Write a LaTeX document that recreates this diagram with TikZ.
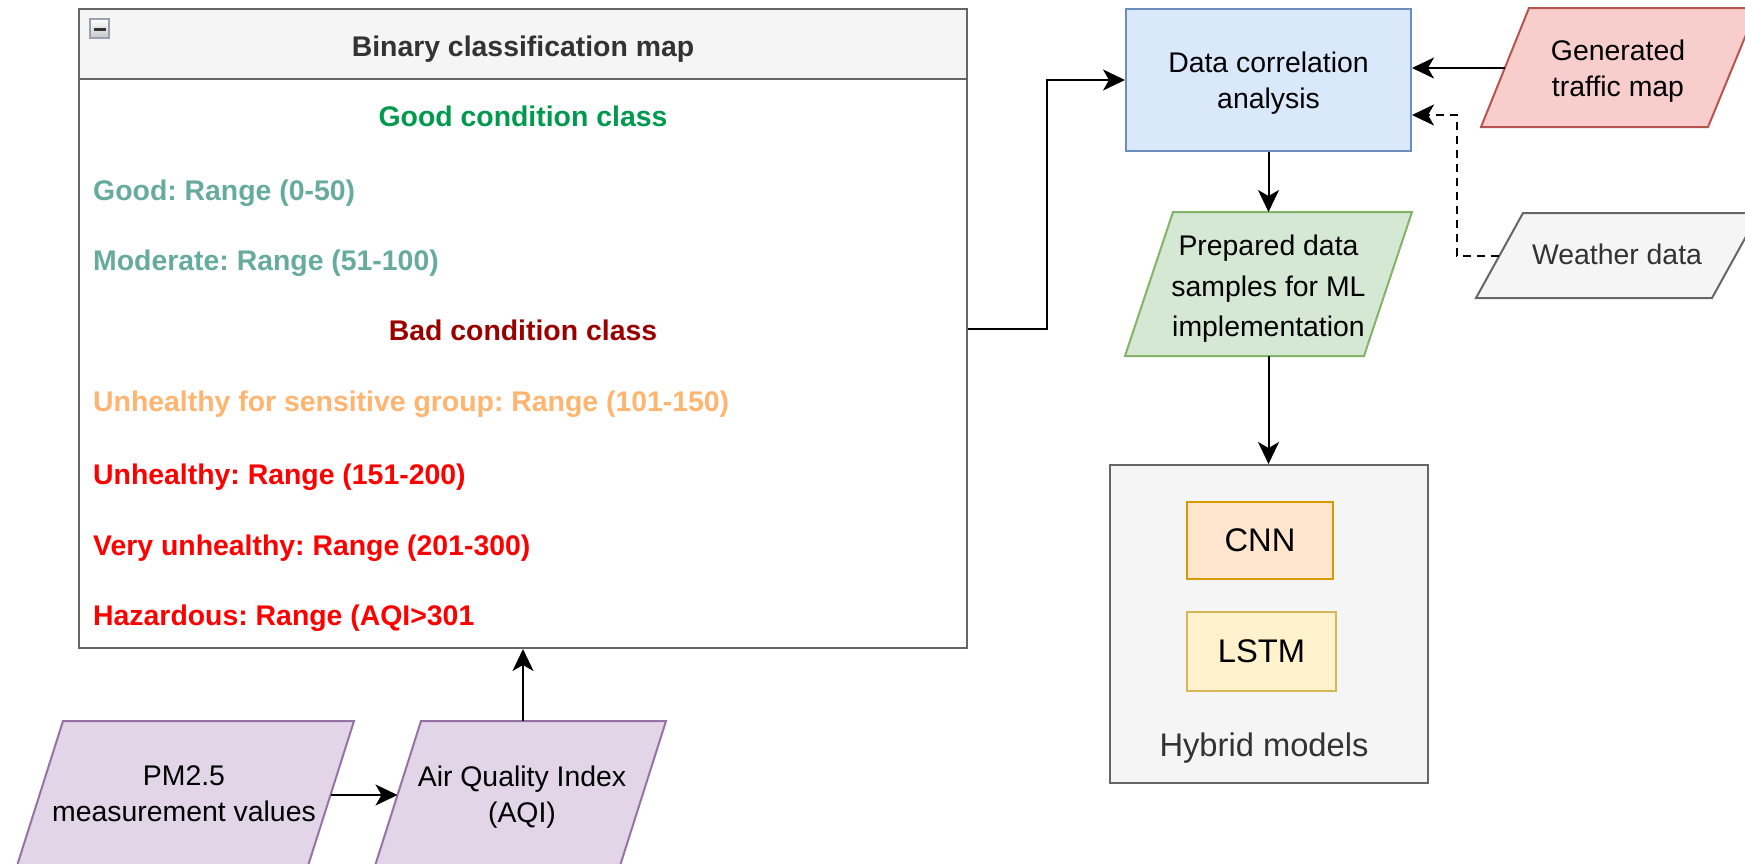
\documentclass[tikz,border=0pt]{standalone}
\usepackage{fontspec}
\setmainfont{Liberation Sans}
\usetikzlibrary{arrows.meta}
\frenchspacing

\definecolor{edgegray}{HTML}{666666}
\definecolor{panelgray}{HTML}{F5F5F5}
\definecolor{darktext}{HTML}{333333}
\definecolor{goodgreen}{HTML}{00994D}
\definecolor{goodteal}{HTML}{67AB9F}
\definecolor{badred}{HTML}{990000}
\definecolor{sensorange}{HTML}{FFB570}
\definecolor{alertred}{HTML}{FF0000}
\definecolor{bluefill}{HTML}{DAE8FC}
\definecolor{blueedge}{HTML}{6C8EBF}
\definecolor{redfill}{HTML}{F8CECC}
\definecolor{rededge}{HTML}{B85450}
\definecolor{greenfill}{HTML}{D5E8D4}
\definecolor{greenedge}{HTML}{82B366}
\definecolor{purplefill}{HTML}{E1D5E7}
\definecolor{purpleedge}{HTML}{9673A6}
\definecolor{orangefill}{HTML}{FFE6CC}
\definecolor{orangeedge}{HTML}{D79B00}
\definecolor{yellowfill}{HTML}{FFF2CC}
\definecolor{yellowedge}{HTML}{D6B656}
\definecolor{iconedge}{HTML}{9AA0B0}

\begin{document}
\begin{tikzpicture}[x=1pt,y=-1pt,
  basefont/.style={font=\fontsize{28.4}{36}\selectfont},
  bigfont/.style={font=\fontsize{32.7}{40}\selectfont},
  label/.style={basefont, inner sep=0pt, align=center},
  listitem/.style={font=\fontsize{28.4}{36}\selectfont\bfseries, inner sep=0pt, anchor=west},
  heading/.style={font=\fontsize{28.4}{36}\selectfont\bfseries, inner sep=0pt},
  stepbox/.style={draw, line width=2pt, inner sep=0pt, basefont, align=center},
  skewshape/.style={line width=2pt},
  link/.style={draw=black, line width=2pt, -{Stealth[length=22pt,width=21pt,inset=6pt]}},
  dashlink/.style={link, dash pattern=on 8pt off 6pt}
]
\useasboundingbox (0,0) rectangle (1745,863);
\clip (0,0) rectangle (1745,863);

% ---- Binary classification panel ----
\node[draw=edgegray, line width=2pt, minimum width=888, minimum height=639, inner sep=0pt]
  (panel) at (523,328.5) {};
\fill[panelgray] (80,10) rectangle (966,78.5);
\draw[edgegray, line width=2pt] (79,79) -- (967,79);
\draw[edgegray, line width=2pt] (79,9) rectangle (967,648);
\shade[top color=white, bottom color=gray!45, draw=iconedge, line width=1.5pt]
  (90,19) rectangle (109,38);
\fill[darktext] (93.5,27.5) rectangle (105.5,30.5);
\node[heading, text=darktext] (title) at (523,49) {Binary classification map};

\node[heading, text=goodgreen] (goodhead) at (523,116) {Good condition class};
\node[listitem, text=goodteal] (good) at (93,193) {Good: Range (0-50)};
\node[listitem, text=goodteal] (moderate) at (93,263) {Moderate: Range (51-100)};
\node[heading, text=badred] (badhead) at (523,330) {Bad condition class};
\node[listitem, text=sensorange] (sensitive) at (93,404.5) {Unhealthy for sensitive group: Range (101-150)};
\node[listitem, text=alertred] (unhealthy) at (93,477) {Unhealthy: Range (151-200)};
\node[listitem, text=alertred] (veryunhealthy) at (93,548) {Very unhealthy: Range (201-300)};
\node[listitem, text=alertred] (hazardous) at (93,618.5) {Hazardous: Range (AQI>301};

% ---- Data correlation analysis ----
\node[stepbox, draw=blueedge, fill=bluefill, minimum width=285, minimum height=142]
  (dca) at (1268.5,80) {};
\node[label] (dcalabel) at (1268.5,83) {Data correlation\\analysis};
\coordinate (bend) at (1047,80);

% ---- Generated traffic map (input) ----
\filldraw[skewshape, fill=redfill, draw=rededge]
  (1481,127) -- (1529,8) -- (1757,8) -- (1708,127) -- cycle;
\node[label] (traffic) at (1618,71) {Generated\\traffic map};
\coordinate (trafficin) at (1505,68);

% ---- Weather data (input) ----
\filldraw[skewshape, fill=panelgray, draw=edgegray]
  (1476,298) -- (1523,213) -- (1759,213) -- (1712,298) -- cycle;
\node[label, text=darktext] (weather) at (1617,254) {Weather data};
\coordinate (weatherin) at (1499,256);
\coordinate (weatherbend) at (1457,115);

% ---- Prepared data samples ----
\filldraw[skewshape, fill=greenfill, draw=greenedge]
  (1125,356) -- (1173,212) -- (1412,212) -- (1364,356) -- cycle;
\node[label, font=\fontsize{28.4}{40.5}\selectfont] (prepared) at (1268.5,289)
  {Prepared data\\samples for ML\\implementation};
\coordinate (preptop) at (1268.5,212);
\coordinate (prepbot) at (1268.5,356);

% ---- Hybrid models ----
\node[stepbox, draw=edgegray, fill=panelgray, minimum width=318, minimum height=318]
  (hybrid) at (1268.5,624) {};
\node[label, bigfont, text=darktext] (hybridlabel) at (1264,748) {Hybrid models};
\node[stepbox, bigfont, draw=orangeedge, fill=orangefill, minimum width=146, minimum height=77]
  (cnn) at (1260,540.5) {CNN};
\node[stepbox, bigfont, draw=yellowedge, fill=yellowfill, minimum width=149, minimum height=79]
  (lstm) at (1261.5,651.5) {LSTM};

% ---- PM2.5 and AQI inputs ----
\filldraw[skewshape, fill=purplefill, draw=purpleedge]
  (16,869) -- (63,721) -- (354,721) -- (307,869) -- cycle;
\node[label] (pm) at (184,794) {PM2.5\\measurement values};
\filldraw[skewshape, fill=purplefill, draw=purpleedge]
  (374,869) -- (421,721) -- (666,721) -- (619,869) -- cycle;
\node[label] (aqi) at (522,797) {Air Quality Index\\(AQI)};
\coordinate (pmout) at (330.5,795);
\coordinate (aqiin) at (397.5,795);
\coordinate (aqitop) at (523,721);

% ---- Connectors ----
\draw[link] (pmout) -- (aqiin);
\draw[link] (aqitop) -- (panel.south);
\draw[link] (panel.east) -| (bend) -- (dca.west);
\draw[link] (trafficin) -- (dca.east |- trafficin);
\draw[dashlink] (weatherin) -| (weatherbend) -- (dca.east |- weatherbend);
\draw[link] (dca.south) -- (preptop);
\draw[link] (prepbot) -- (hybrid.north);
\end{tikzpicture}
\end{document}
